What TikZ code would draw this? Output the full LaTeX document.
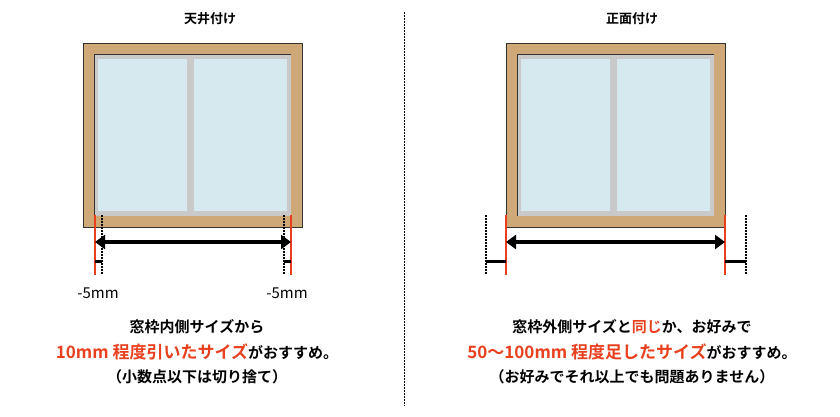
\documentclass[tikz,border=0pt]{standalone}
\usepackage{fontspec}
\setmainfont{Noto Sans CJK JP}[BoldFont={Noto Sans CJK JP Bold}]
\usetikzlibrary{arrows.meta}
\definecolor{wood}{HTML}{CFA878}
\definecolor{glass}{HTML}{D6E9EF}
\definecolor{sash}{HTML}{C9C9C9}
\definecolor{rd}{HTML}{E8401E}
\tikzset{
  txt/.style={font=\bfseries\fontsize{15}{17}\selectfont, inner sep=0pt},
  redline/.style={draw=rd, line width=1.2pt},
  dots/.style={line width=1.3pt, dash pattern=on 1.5pt off 1.5pt},
  dim/.style={line width=3.5pt, {Triangle[length=10pt,width=14pt]}-{Triangle[length=10pt,width=14pt]}},
  tick/.style={line width=3pt},
}
\begin{document}
\begin{tikzpicture}[x=1pt,y=-1pt]
\useasboundingbox (0,0) rectangle (840,416);
\draw[line width=0.7pt, dash pattern=on 1.5pt off 1.5pt] (404,12) -- (404,406);
\foreach \ox in {83,506}{
  \begin{scope}[xshift=\ox pt]
  \draw[fill=wood, line width=0.8pt, draw=black!80] (0,43) rectangle (219,227);
  \fill[sash] (11,54) rectangle (208,216);
  \draw[line width=0.8pt, draw=black!80] (11,216) -- (11,54) -- (208,54);
  \fill[glass] (15,59) rectangle (104,211);
  \fill[glass] (111,59) rectangle (204,211);
  \end{scope}
}
\node[txt, font=\bfseries\fontsize{13}{15}\selectfont] (t1) at (210,19) {天井付け};
\node[txt, font=\bfseries\fontsize{13}{15}\selectfont] (t2) at (632,19) {正面付け};
% left dims
\draw[redline] (95,215) -- (95,275); \draw[redline] (291,215) -- (291,275);
\draw[dots] (102,215) -- (102,275); \draw[dots] (284,215) -- (284,275);
\coordinate (a1) at (95,242); \coordinate (a2) at (291,242);
\draw[dim] (a1) -- (a2);
\draw[tick] (95,261) -- (102,261); \draw[tick] (284,261) -- (291,261);
\node[txt, font=\fontsize{15}{17}\selectfont] (m1) at (98,293) {-5mm};
\node[txt, font=\fontsize{15}{17}\selectfont] (m2) at (287,293) {-5mm};
% right dims
\draw[redline] (506,215) -- (506,275); \draw[redline] (725,215) -- (725,275);
\draw[dots] (486,215) -- (486,275); \draw[dots] (746,215) -- (746,275);
\coordinate (b1) at (506,242); \coordinate (b2) at (725,242);
\draw[dim] (b1) -- (b2);
\draw[tick] (486,261) -- (506,261); \draw[tick] (725,261) -- (746,261);
% texts
\node[txt] (l1) at (197,327) {窓枠内側サイズから};
\node[txt] (l2) at (197,352) {\textcolor{rd}{\fontsize{17}{19}\selectfont 10mm 程度引いたサイズ}がおすすめ。};
\node[txt] (l3) at (197,377) {（小数点以下は切り捨て）};
\node[txt] (r1) at (632,327) {窓枠外側サイズと\textcolor{rd}{同じ}か、お好みで};
\node[txt] (r2) at (632,352) {\textcolor{rd}{\fontsize{17}{19}\selectfont 50〜100mm 程度足したサイズ}がおすすめ。};
\node[txt] (r3) at (632,377) {（お好みでそれ以上でも問題ありません）};
\end{tikzpicture}
\end{document}
